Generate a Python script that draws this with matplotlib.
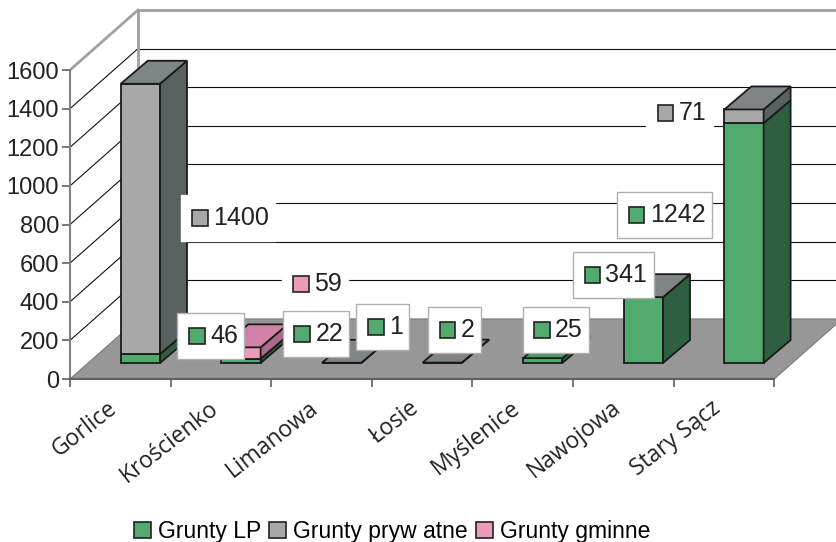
import matplotlib.pyplot as plt
import numpy as np
from matplotlib.patches import Polygon, Rectangle
from matplotlib.offsetbox import AnnotationBbox, HPacker, TextArea, DrawingArea

plt.rcParams['font.family'] = ['Liberation Sans', 'DejaVu Sans']

# data
places = ['Gorlice', 'Krościenko', 'Limanowa', 'Łosie', 'Myślenice', 'Nawojowa', 'Stary Sącz']
grunty_lp = [46, 22, 1, 2, 25, 341, 1242]
grunty_pryw = [1400, np.nan, 0, 0, np.nan, 0, 71]
grunty_gm = [np.nan, 59, np.nan, np.nan, np.nan, np.nan, np.nan]
series_names = ['Grunty LP', 'Grunty pryw atne', 'Grunty gminne']
yticks = np.arange(0, 1601, 200)

# colours: front, side, top
cols = [('#52aa6e', '#2e5f40', '#4a9a63'),
        ('#a8a8a8', '#586060', '#7f8584'),
        ('#ec9bb8', '#a96a8c', '#d282a8')]

# 3d look (in data units)
FX, FY = 0.2, 83      # bar front offset from front plane
DX, DY = 0.268, 119   # bar depth
WX, WY = 0.676, 311   # wall depth
BW = 0.39

fig = plt.figure(figsize=(8.36, 5.42), dpi=100)
ax = fig.add_axes([70 / 836, 163 / 542, 766 / 836, 379 / 542])
ax.set_xlim(0, 766 / 100.6)
ax.set_ylim(0, 379 / 0.1931)

# floor
n = len(places)
ax.add_patch(Polygon([(0, 0), (n, 0), (n + WX, WY), (WX, WY)], closed=True,
                     facecolor='#979797', edgecolor='#7a7a7a', lw=0.8, zorder=1))

# walls and gridlines
for v in yticks[1:]:
    c, lw = ('#111111', 0.8) if v < 1600 else ('#a0a0a0', 2)
    ax.plot([WX, 8.5], [v + WY, v + WY], color=c, lw=lw, zorder=0.5)
    ax.plot([0, WX], [v, v + WY], color=c, lw=lw, zorder=0.5)
ax.plot([WX, WX], [WY, 1600 + WY], color='#a0a0a0', lw=2, zorder=0.6)

# bars
for i in range(n):
    segs = [(grunty_lp[i], 0), (grunty_pryw[i], 1), (grunty_gm[i], 2)]
    segs = [(h, k) for h, k in segs if not np.isnan(h)]
    xc = i + 0.5 + FX
    xl, xr = xc - BW / 2, xc + BW / 2
    b = 0
    for h, k in segs:
        front, side, top = cols[k]
        ax.bar(xc, h, width=BW, bottom=b + FY, color=front, edgecolor='#1a1a1a',
               lw=1.3, zorder=3)
        ax.add_patch(Polygon([(xr, b + FY), (xr + DX, b + FY + DY),
                              (xr + DX, b + h + FY + DY), (xr, b + h + FY)],
                             closed=True, facecolor=side, edgecolor='#1a1a1a',
                             lw=1.3, zorder=3))
        b += h
    ax.add_patch(Polygon([(xl, b + FY), (xr, b + FY), (xr + DX, b + FY + DY),
                          (xl + DX, b + FY + DY)], closed=True,
                         facecolor=cols[segs[-1][1]][2], edgecolor='#1a1a1a',
                         lw=1.3, zorder=3))

# data labels: (category, series, x, y, framed)
label_pos = [(0, 1, 1.57, 834, False), (0, 0, 1.40, 223, True),
             (1, 2, 2.435, 492, False), (1, 0, 2.445, 233, True),
             (2, 0, 3.11, 269, True), (3, 0, 3.82, 254, True),
             (4, 0, 4.83, 254, True), (5, 0, 5.40, 539, True),
             (6, 0, 5.91, 849, True), (6, 1, 6.06, 1378, False)]
data = [grunty_lp, grunty_pryw, grunty_gm]
for i, k, x, y, framed in label_pos:
    da = DrawingArea(11, 11)
    da.add_artist(Rectangle((0, 0), 11, 11, facecolor=cols[k][0],
                            edgecolor='#222222', lw=1.2))
    strut = DrawingArea(0, 24)
    ta = TextArea(str(int(data[k][i])), textprops=dict(fontsize=18, color='#222222'))
    box = HPacker(children=[strut, da, ta], align='center', pad=0, sep=4)
    ab = AnnotationBbox(box, (x, y), frameon=True, pad=0.45,
                        bboxprops=dict(facecolor='white',
                                       edgecolor='#b0b0b0' if framed else 'white',
                                       lw=1), zorder=5)
    ax.add_artist(ab)

# axes
for s in ['top', 'right']:
    ax.spines[s].set_visible(False)
ax.spines['left'].set_bounds(0, 1600)
ax.spines['bottom'].set_bounds(0, n)
ax.spines['left'].set_color('#808080')
ax.spines['bottom'].set_color('#606060')
ax.spines['left'].set_linewidth(1.5)
ax.spines['bottom'].set_linewidth(1.5)
ax.set_yticks(yticks)
ax.set_yticklabels([str(v) for v in yticks], fontsize=17, color='#222222')
ax.set_xticks(np.arange(n + 1))
ax.set_xticklabels([])
ax.tick_params(axis='both', which='major', length=6, color='#606060', width=1.2)
ax.tick_params(axis='y', pad=2)
for i, name in enumerate(places):
    ax.annotate(name, xy=(i + 0.5, 0), xytext=(-13, -17), textcoords='offset pixels',
                ha='right', va='top', rotation=38, rotation_mode='anchor',
                fontsize=16.5, family='Open Sans', color='#222222')

handles = [Rectangle((0, 0), 1, 1, facecolor=c[0], edgecolor='#222222', lw=1.2)
           for c in cols]
fig.legend(handles, series_names, loc='lower center', bbox_to_anchor=(0.469, -0.04),
           ncol=3, frameon=False, fontsize=16.5, handlelength=0.75, handleheight=0.75,
           handletextpad=0.3, columnspacing=0.35)

fig.savefig('out.png', dpi=100)
